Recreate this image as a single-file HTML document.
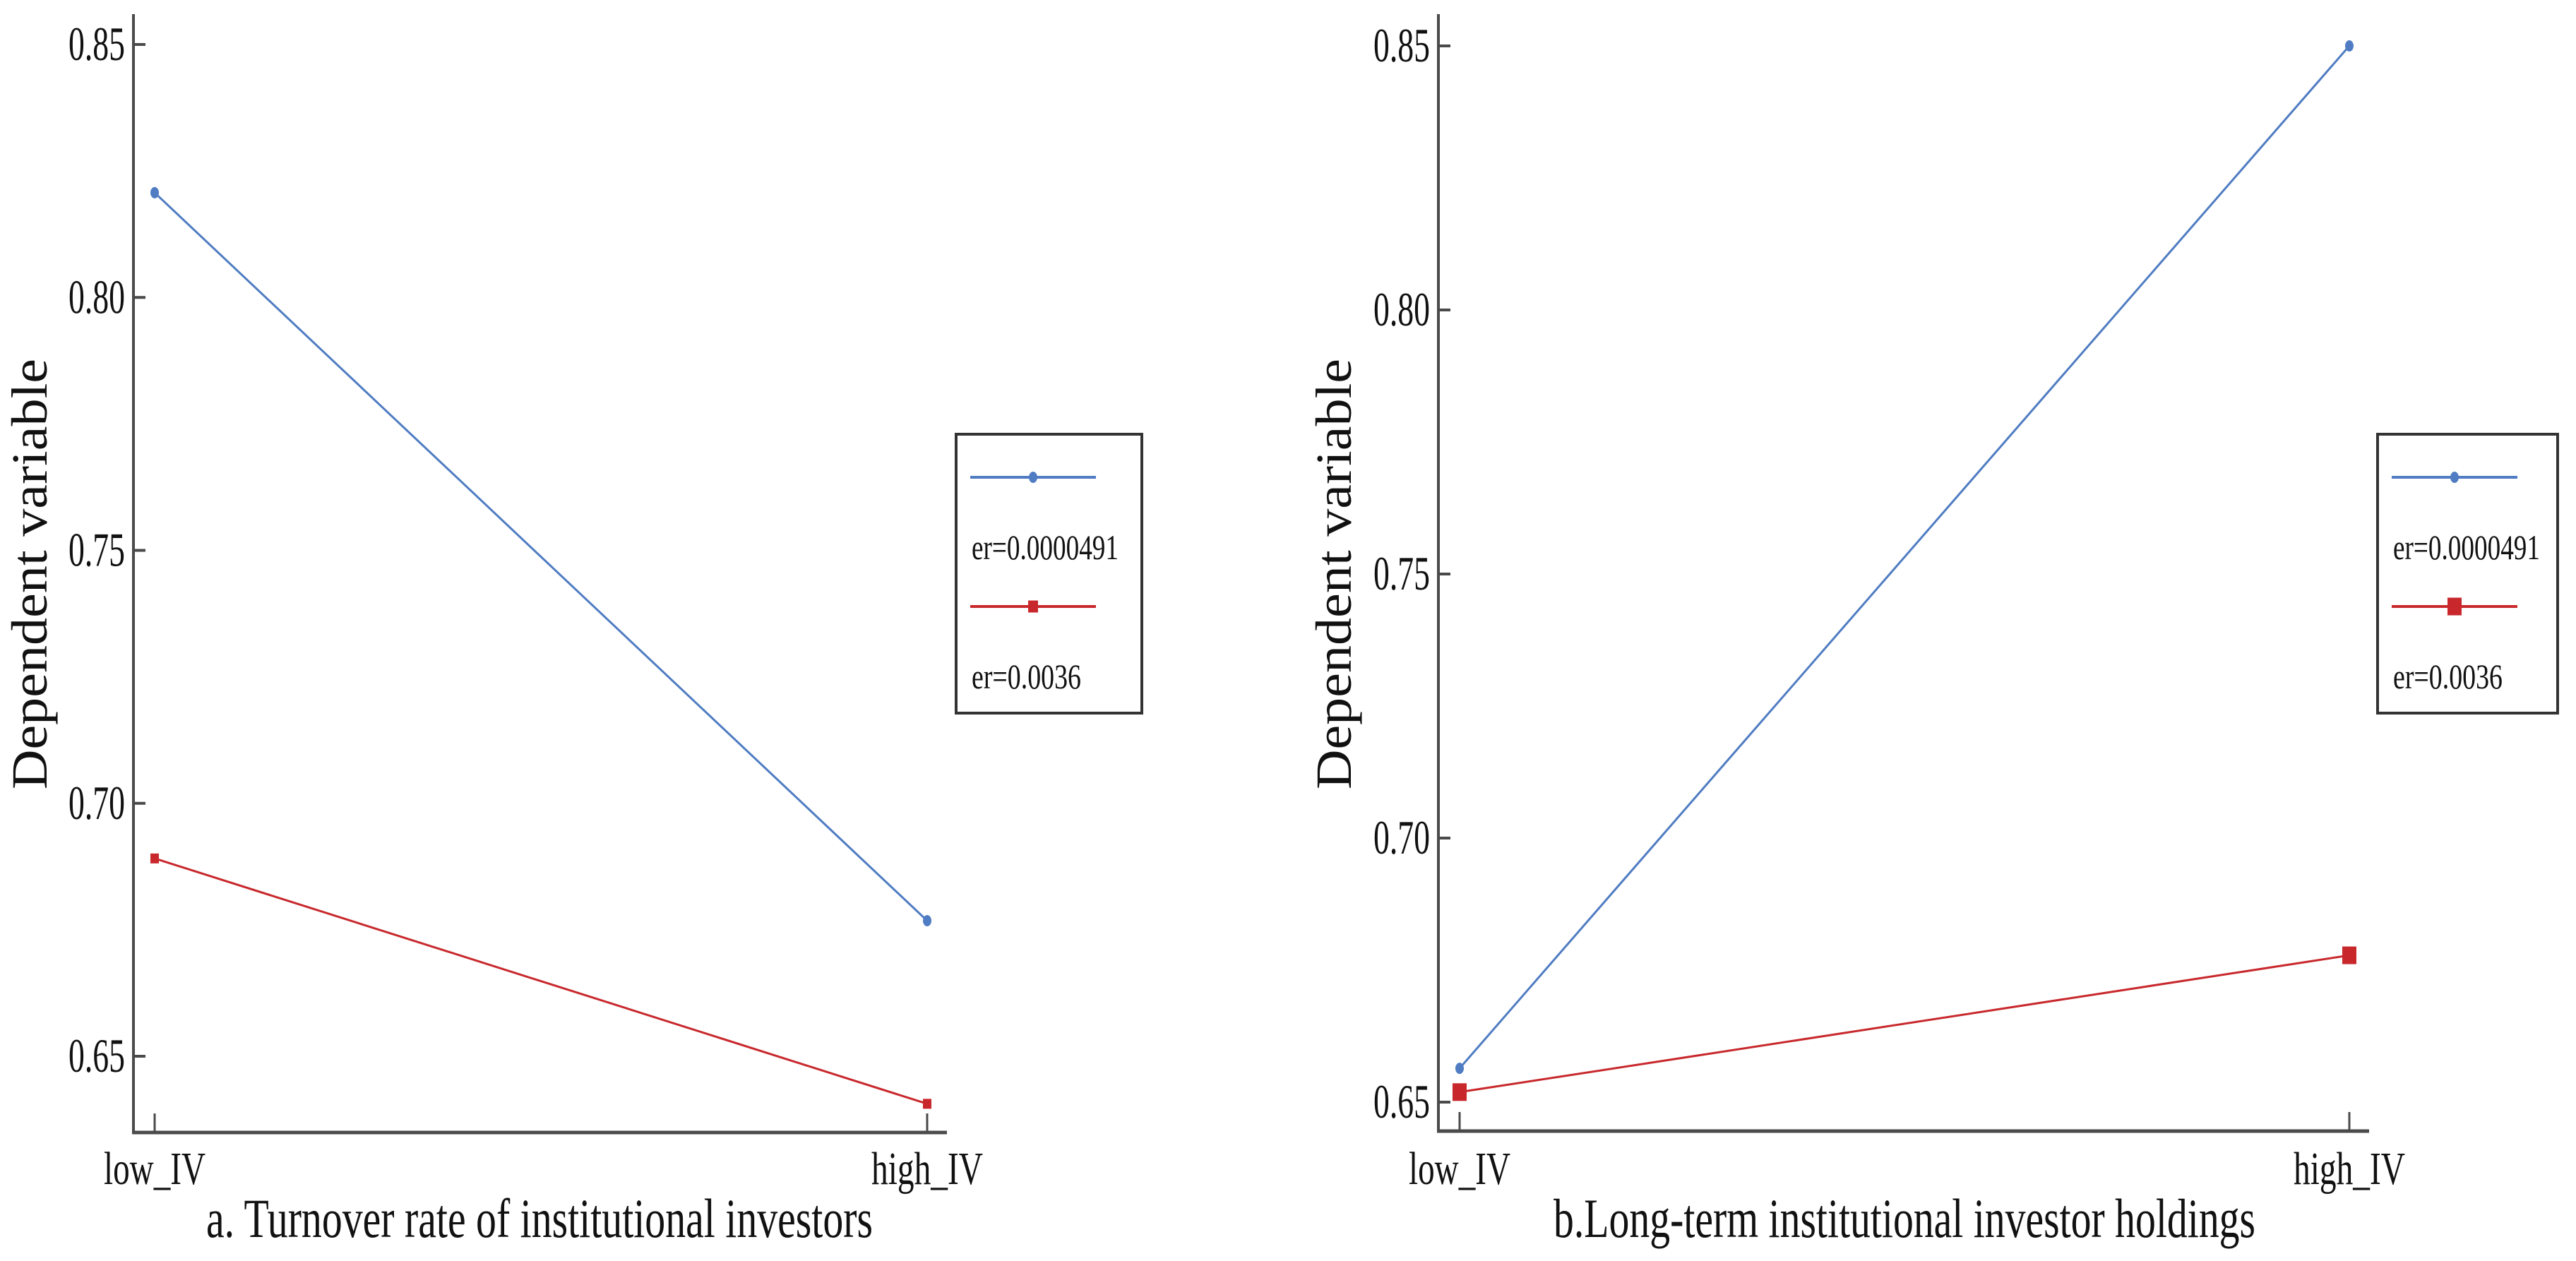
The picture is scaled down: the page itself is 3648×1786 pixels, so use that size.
<!DOCTYPE html>
<html><head><meta charset="utf-8"><style>
html,body{margin:0;padding:0;background:#fff;}
svg{display:block;}
text{font-family:"Liberation Serif",serif;fill:#111;}
</style></head><body>
<svg id="chart" width="3648" height="1786" viewBox="0 0 3648 1786" xmlns="http://www.w3.org/2000/svg"></svg>
<script>
const categories = ["low_IV","high_IV"];
const yTicks = [0.65,0.70,0.75,0.80,0.85];
const yTickLabels = ["0.65","0.70","0.75","0.80","0.85"];
const seriesLabels = ["er=0.0000491","er=0.0036"];
const panelATitle = "a. Turnover rate of institutional investors";
const panelBTitle = "b.Long-term institutional investor holdings";
const panelABlue = [0.8207,0.6768];
const panelARed = [0.6891,0.6406];
const panelBBlue = [0.6564,0.8500];
const panelBRed = [0.6519,0.6778];

const NS="http://www.w3.org/2000/svg";
const svg=document.getElementById('chart');
function mk(tag,attrs,parent){const e=document.createElementNS(NS,tag);for(const k in attrs)e.setAttribute(k,attrs[k]);(parent||svg).appendChild(e);return e;}
const BLUE="#4f7cc2", RED="#c8282c", AX="#4a4a4a";

function panel(cfg){
  const g=mk('g',{});
  
  
  const y=v=>cfg.y65+(0.65-v)/0.05*cfg.step;
  const x=i=>cfg.x0+i*(cfg.x1-cfg.x0);
  const ya=mk('line',{x1:cfg.ax,y1:20,x2:cfg.ax,y2:cfg.ay,stroke:AX,'stroke-width':4},g);
  
  
  const xa=mk('line',{x1:cfg.ax-2,y1:cfg.ay,x2:cfg.axEnd,y2:cfg.ay,stroke:AX,'stroke-width':5},g);
  
  
  yTicks.forEach((v,i)=>{
    mk('line',{x1:cfg.ax,y1:y(v),x2:cfg.ax+17,y2:y(v),stroke:AX,'stroke-width':4},g);
    const t=mk('text',{x:cfg.ax-12,y:y(v)+22,'text-anchor':'end','font-size':68,textLength:80,lengthAdjust:'spacingAndGlyphs'},g);
    t.textContent=yTickLabels[i];
    
    
  });
  categories.forEach((c,i)=>{
    mk('line',{x1:x(i),y1:cfg.ay,x2:x(i),y2:cfg.ay-27,stroke:AX,'stroke-width':3},g);
    const w=i===0?144:158;
    const t=mk('text',{x:x(i)-w/2,y:1677,'font-size':66,textLength:w,lengthAdjust:'spacingAndGlyphs'},g);
    t.textContent=c;
    
    
  });
  const tt=mk('text',{x:cfg.titleX,y:1752,'font-size':78,textLength:cfg.titleW,lengthAdjust:'spacingAndGlyphs'},g);
  tt.textContent=cfg.title;
  
  
  const yt=mk('text',{transform:`translate(${cfg.ytX},813) rotate(-90)`,'text-anchor':'middle','font-size':72,textLength:610,lengthAdjust:'spacingAndGlyphs'},g);
  yt.textContent="Dependent variable";
  
  
  [[cfg.blue,BLUE,'blue'],[cfg.red,RED,'red']].forEach(([vals,col,nm])=>{
    const pl=mk('polyline',{points:vals.map((v,i)=>x(i)+','+y(v)).join(' '),fill:'none',stroke:col,'stroke-width':3},g);
    
    
    vals.forEach((v,i)=>{
      let m;
      if(nm==='blue') m=mk('ellipse',{cx:x(i),cy:y(v),rx:6,ry:8,fill:col},g);
      else {const w=cfg.sq[0],h=cfg.sq[1];m=mk('rect',{x:x(i)-w/2,y:y(v)-h/2,width:w,height:h,fill:col},g);}
      
      
    });
  });
  const lg=mk('g',{},g);
  
  
  mk('rect',{x:cfg.lx,y:615,width:cfg.lw,height:395,fill:'#fff',stroke:'#333','stroke-width':4},lg);
  const l0=cfg.lx+20, l1=cfg.lx+198, lm=cfg.lx+109;
  [[676,BLUE,792,208],[859,RED,975,155]].forEach(([ly,col,ty,tw],k)=>{
    const e=mk('g',{},lg);
    
    
    mk('line',{x1:l0,y1:ly,x2:l1,y2:ly,stroke:col,'stroke-width':4},e);
    if(k===0) mk('ellipse',{cx:lm,cy:ly,rx:6,ry:8,fill:col},e);
    else mk('rect',{x:lm-cfg.lsq[0]/2,y:ly-cfg.lsq[1]/2,width:cfg.lsq[0],height:cfg.lsq[1],fill:col},e);
    const t=mk('text',{x:l0+2,y:ty,'font-size':50,textLength:tw,lengthAdjust:'spacingAndGlyphs'},e);
    t.textContent=seriesLabels[k];
  });
}
panel({name:'panel-a',ax:189,ay:1604,axEnd:1341,x0:219,x1:1313,y65:1496,step:358.25,blue:panelABlue,red:panelARed,
  title:panelATitle,titleX:292,titleW:944,ytX:66,lx:1354,lw:263,sq:[12,14],lsq:[14,17]});
panel({name:'panel-b',ax:2037,ay:1602,axEnd:3355,x0:2067,x1:3327,y65:1561,step:374,blue:panelBBlue,red:panelBRed,
  title:panelBTitle,titleX:2200,titleW:994,ytX:1913,lx:3367,lw:255,sq:[20,25],lsq:[20,25]});
</script>
</body></html>
